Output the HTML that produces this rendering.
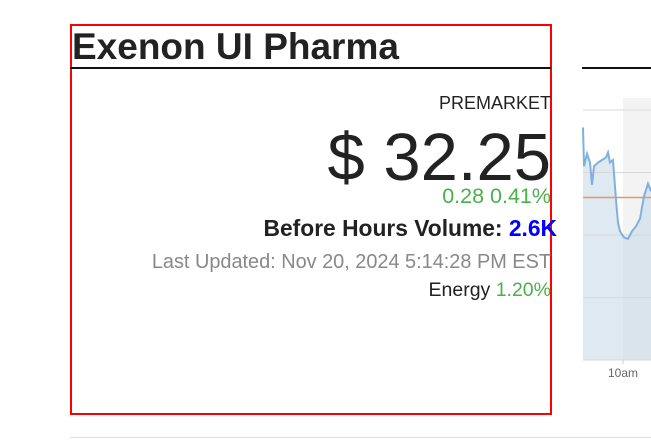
<!DOCTYPE html>
<html><head><meta charset="utf-8"><style>
body{margin:0;width:651px;height:440px;background:#fff;position:relative;overflow:hidden;font-family:"Liberation Sans",sans-serif;color:#222}
.r{position:absolute;left:0;width:551px;text-align:right;white-space:nowrap;line-height:1}
</style></head><body>
<div style="position:absolute;left:70px;top:24px;width:478px;height:387px;border:2px solid #f00"></div>
<div style="position:absolute;left:72px;top:27px;font-size:37px;font-weight:bold;color:#222;line-height:1.1">Exenon UI Pharma</div>
<div style="position:absolute;left:70px;top:67px;width:481px;height:2px;background:#111"></div>
<div style="position:absolute;left:582px;top:67px;width:69px;height:2px;background:#111"></div>
<div class="r" style="top:94px;font-size:18px;color:#222">PREMARKET</div>
<div class="r" style="top:124px;font-size:67px;color:#222">$ 32.25</div>
<div class="r" style="top:186px;font-size:21.5px;color:#4cae4c">0.28 0.41%</div>
<div style="position:absolute;left:0;width:557px;text-align:right;top:217px;font-size:22.8px;font-weight:bold;line-height:1;white-space:nowrap">Before Hours Volume: <span style="color:#00f">2.6K</span></div>
<div class="r" style="top:253px;font-size:19.9px;color:#888">Last Updated: Nov 20, 2024 5:14:28 PM EST</div>
<div class="r" style="top:281px;font-size:19.5px;color:#222">Energy <span style="color:#4cae4c">1.20%</span></div>
<div style="position:absolute;left:70px;top:437px;width:581px;height:1px;background:#ddd"></div>
<svg id="chart" style="position:absolute;left:0;top:0" width="651" height="440"></svg>
<script>
const times=[0,1,4,7,9,11,15,19,23,25,27,30,33,35,37,41,45,49,53,57,61,65,68];
const prices=[32.86,32.55,32.65,32.58,32.40,32.55,32.58,32.60,32.62,32.66,32.58,32.60,32.28,32.10,32.03,31.98,31.97,32.03,32.07,32.13,32.31,32.41,32.35];
const priceTicks=[33.0,32.5,32.0,31.5,31.0];
const prevClose=32.3;
const xTicks=[{t:40,label:"10am"}];
const X0=583,X1=651,Y0=110,Y1=360;
const x=t=>X0+(t-0)/(68-0)*(X1-X0);
const y=p=>Y0+(33.0-p)/(33.0-31.0)*(Y1-Y0);
const s=document.getElementById('chart');const NS="http://www.w3.org/2000/svg";
function mk(tag,attrs){const e=document.createElementNS(NS,tag);for(const k in attrs)e.setAttribute(k,attrs[k]);s.appendChild(e);return e;}
const bg=mk('rect',{x:583,y:98,width:68,height:262,fill:'#fff'});


const sh=mk('rect',{x:x(40),y:98,width:X1-x(40),height:262,fill:'#f3f3f3'});


let d='M'+x(times[0])+','+Y1;times.forEach((t,i)=>d+=' L'+x(t)+','+y(prices[i]));d+=' L'+x(times[times.length-1])+','+Y1+'Z';
const area=mk('path',{d:d,fill:'#c9dbe8',opacity:0.6});


priceTicks.forEach(p=>{const g=mk('line',{x1:X0,x2:X1,y1:y(p),y2:y(p),stroke:'#d8d8d8','stroke-width':1});

});
const pc=mk('line',{x1:X0,x2:X1,y1:y(prevClose),y2:y(prevClose),stroke:'#e8956a','stroke-width':1.5});


let l='';times.forEach((t,i)=>l+=(i?' L':'M')+x(t)+','+y(prices[i]));
const ln=mk('path',{d:l,fill:'none',stroke:'#7fb0df','stroke-width':2});


xTicks.forEach(tk=>{const tl=mk('line',{x1:x(tk.t),x2:x(tk.t),y1:Y1,y2:Y1+4,stroke:'#ccc'});


const tx=mk('text',{x:x(tk.t),y:377,'text-anchor':'middle','font-size':12,fill:'#666','font-family':'Liberation Sans, sans-serif'});tx.textContent=tk.label;

});
</script>
</body></html>
